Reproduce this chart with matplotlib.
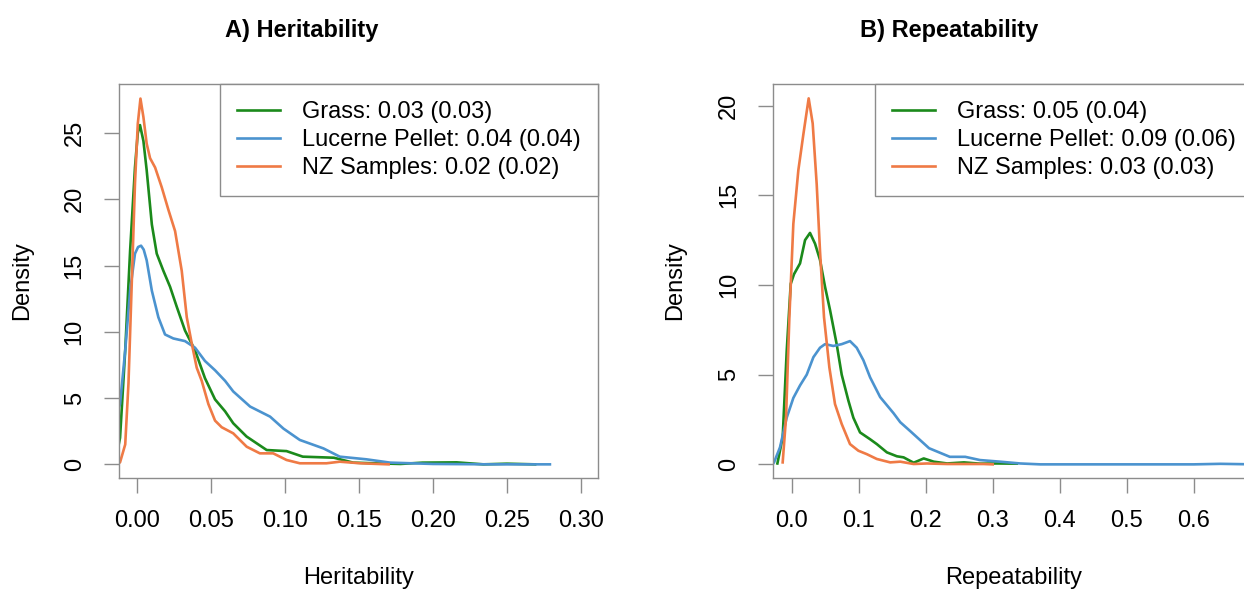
import matplotlib
matplotlib.use("Agg")
import matplotlib.pyplot as plt

# density curves (x, density)
herit_grass_x = [-0.0122, -0.0115, -0.008, -0.0047, -0.0014, 0.0005, 0.002, 0.0043, 0.0065, 0.010, 0.0133, 0.0178,
                 0.0223, 0.0268, 0.0324, 0.0392, 0.0459, 0.0527, 0.0595, 0.065, 0.074, 0.0876, 0.101, 0.112, 0.133,
                 0.146, 0.160, 0.178, 0.193, 0.216, 0.234, 0.250, 0.269]
herit_grass_y = [1.6, 2.0, 8.6, 16.1, 22.4, 25.0, 25.6, 24.4, 22.2, 18.1, 15.9, 14.6,
                 13.4, 11.9, 10.1, 8.6, 6.5, 4.9, 4.0, 3.1, 2.1, 1.08, 1.0, 0.58, 0.5,
                 0.13, 0.08, 0.03, 0.13, 0.15, 0.0, 0.05, 0.0]

herit_lucerne_x = [-0.0122, -0.0115, -0.008, -0.0047, -0.0014, 0.0007, 0.0027, 0.0045, 0.0065, 0.010, 0.0144, 0.0189,
                   0.0245, 0.0324, 0.0392, 0.0459, 0.0527, 0.0595, 0.065, 0.0764, 0.0899, 0.0989, 0.110, 0.126,
                   0.137, 0.155, 0.171, 0.200, 0.240, 0.279]
herit_lucerne_y = [4.3, 4.55, 8.6, 13.1, 15.9, 16.4, 16.5, 16.2, 15.4, 13.1, 11.1, 9.8,
                   9.5, 9.3, 8.8, 7.8, 7.1, 6.3, 5.5, 4.36, 3.6, 2.7, 1.84, 1.2,
                   0.58, 0.38, 0.13, 0.03, 0.0, 0.0]

herit_nz_x = [-0.0122, -0.0115, -0.008, -0.0058, -0.0036, -0.0014, 0.0005, 0.0023, 0.0043, 0.0065, 0.0088, 0.0122,
              0.0167, 0.0212, 0.0257, 0.0302, 0.0336, 0.037, 0.0403, 0.0437, 0.0482, 0.0527, 0.0572, 0.065, 0.0741,
              0.083, 0.092, 0.101, 0.110, 0.128, 0.137, 0.151, 0.170]
herit_nz_y = [0.1, 0.15, 1.5, 6.1, 13.6, 21.2, 25.7, 27.6, 26.2, 24.2, 23.1, 22.4,
              20.9, 19.2, 17.6, 14.6, 11.1, 9.1, 7.3, 6.3, 4.55, 3.3, 2.8, 2.34, 1.33,
              0.83, 0.83, 0.33, 0.08, 0.08, 0.2, 0.08, 0.0]

rep_grass_x = [-0.0214, -0.0135, -0.0075, -0.0015, 0.0034, 0.0124, 0.0199, 0.0273, 0.0348, 0.0422, 0.0497, 0.0572,
               0.0671, 0.0746, 0.0846, 0.092, 0.102, 0.117, 0.127, 0.142, 0.157, 0.167, 0.182, 0.197, 0.212,
               0.232, 0.257, 0.281, 0.306, 0.336]
rep_grass_y = [0.05, 1.5, 6.3, 10.06, 10.6, 11.2, 12.5, 12.9, 12.3, 11.4, 9.9, 8.6,
               6.7, 5.0, 3.55, 2.6, 1.78, 1.4, 1.13, 0.67, 0.45, 0.39, 0.09, 0.33, 0.15,
               0.05, 0.11, 0.04, 0.05, 0.04]

rep_lucerne_x = [-0.0275, -0.0264, -0.0175, -0.0075, 0.0024, 0.0124, 0.0224, 0.0323, 0.0422, 0.0497, 0.0621, 0.0746,
                 0.087, 0.097, 0.107, 0.117, 0.132, 0.142, 0.152, 0.162, 0.177, 0.205, 0.236, 0.259, 0.281,
                 0.311, 0.341, 0.371, 0.45, 0.55, 0.60, 0.64, 0.69]
rep_lucerne_y = [0.05, 0.11, 0.95, 2.6, 3.7, 4.4, 5.0, 5.97, 6.5, 6.7, 6.6, 6.7,
                 6.87, 6.5, 5.8, 4.85, 3.75, 3.3, 2.85, 2.35, 1.85, 0.9, 0.42, 0.42, 0.24,
                 0.15, 0.05, 0.0, 0.0, 0.0, 0.0, 0.03, 0.0]

rep_nz_x = [-0.0135, -0.0085, -0.0035, 0.0024, 0.0099, 0.0174, 0.0253, 0.0313, 0.0373, 0.0422, 0.0482, 0.0562,
            0.0646, 0.0746, 0.087, 0.0995, 0.112, 0.127, 0.147, 0.162, 0.182, 0.202, 0.232, 0.286, 0.30]
rep_nz_y = [0.11, 2.6, 8.2, 13.4, 16.4, 18.4, 20.4, 19.0, 15.6, 11.9, 8.2, 5.4,
            3.36, 2.25, 1.13, 0.76, 0.57, 0.3, 0.11, 0.15, 0.02, 0.05, 0.02, 0.02, 0.0]

herit_labels = ["Grass: 0.03 (0.03)", "Lucerne Pellet: 0.04 (0.04)", "NZ Samples: 0.02 (0.02)"]
rep_labels = ["Grass: 0.05 (0.04)", "Lucerne Pellet: 0.09 (0.06)", "NZ Samples: 0.03 (0.03)"]

herit_ticks = [0.00, 0.05, 0.10, 0.15, 0.20, 0.25, 0.30]
herit_tick_labels = ["0.00", "0.05", "0.10", "0.15", "0.20", "0.25", "0.30"]
rep_ticks = [0.0, 0.1, 0.2, 0.3, 0.4, 0.5, 0.6]
rep_tick_labels = ["0.0", "0.1", "0.2", "0.3", "0.4", "0.5", "0.6"]

colors = ["#1b8a1b", "#4b93cf", "#ef7a45"]
grey = "#8c8c8c"

plt.rcParams['font.family'] = ['Liberation Sans', 'DejaVu Sans']


def density_panel(ax, curves, labels, ticks, tick_labels, yticks, xlim, ylim, xlabel):
    for (x, y), c, lab in zip(curves, colors, labels):
        ax.plot(x, y, color=c, lw=1.9, label=lab, solid_joinstyle='round')
    ax.set_xlim(*xlim)
    ax.set_ylim(*ylim)
    ax.set_xticks(ticks)
    ax.set_xticklabels(tick_labels)
    ax.set_yticks(yticks)
    ax.set_yticklabels([str(v) for v in yticks], rotation=90, va='center')
    for s in ax.spines.values():
        s.set_color(grey)
        s.set_linewidth(1.0)
    ax.tick_params(direction='out', length=11, width=1.0, color=grey, labelsize=17, pad=12)
    ax.tick_params(axis='y', pad=13)
    ax.set_xlabel(xlabel, fontsize=17)
    ax.set_ylabel("Density", fontsize=17)
    ax.xaxis.set_label_coords(0.5, -0.254)
    ax.xaxis.label.set_va('center')
    ax.yaxis.label.set_va('center')
    leg = ax.legend(loc='upper right', borderaxespad=0, fancybox=False, fontsize=17,
                    handlelength=1.82, handletextpad=0.93, borderpad=0.72, labelspacing=0.25,
                    framealpha=1)
    leg.get_frame().set_edgecolor(grey)
    leg.get_frame().set_linewidth(1.0)
    return ax


fig = plt.figure(figsize=(12.44, 5.91), dpi=100)
ax1 = fig.add_axes([119 / 1244, 113 / 591, 479 / 1244, 394 / 591])
ax2 = fig.add_axes([773.3 / 1244, 113 / 591, 480 / 1244, 394 / 591])

density_panel(ax1, [(herit_grass_x, herit_grass_y), (herit_lucerne_x, herit_lucerne_y), (herit_nz_x, herit_nz_y)],
              herit_labels, herit_ticks, herit_tick_labels, [0, 5, 10, 15, 20, 25],
              (-0.0122, 0.3115), (-1.03, 28.7), "Heritability")
density_panel(ax2, [(rep_grass_x, rep_grass_y), (rep_lucerne_x, rep_lucerne_y), (rep_nz_x, rep_nz_y)],
              rep_labels, rep_ticks, rep_tick_labels, [0, 5, 10, 15, 20],
              (-0.0275, 0.689), (-0.76, 21.2), "Repeatability")
ax1.yaxis.set_label_coords(-0.2025, 0.5)
ax2.yaxis.set_label_coords(-0.205, 0.5)

fig.text(302 / 1244, 1 - 37 / 591, "A) Heritability", ha='center', va='baseline', fontsize=17, fontweight='bold')
fig.text(949.5 / 1244, 1 - 37 / 591, "B) Repeatability", ha='center', va='baseline', fontsize=17, fontweight='bold')

fig.savefig("out.png", dpi=100)
